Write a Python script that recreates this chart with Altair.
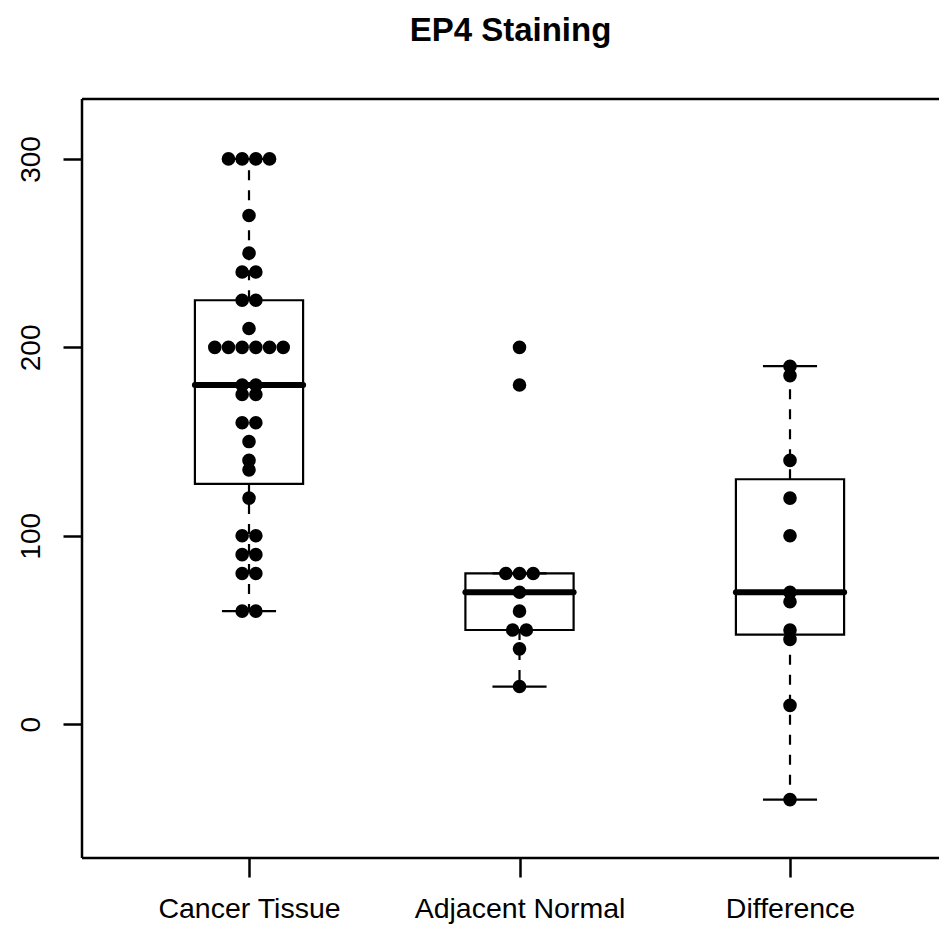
import altair as alt
import numpy as np
import pandas as pd

# ---------------- data ----------------
chart_title = "EP4 Staining"
categories = ["Cancer Tissue", "Adjacent Normal", "Difference"]
cancer_tissue = [300, 300, 300, 300, 270, 250, 240, 240, 225, 225, 210,
                 200, 200, 200, 200, 200, 200, 180, 180, 175, 175, 160, 160,
                 150, 140, 135, 120, 100, 100, 90, 90, 80, 80, 60, 60]
adjacent_normal = [200, 180, 80, 80, 80, 70, 60, 50, 50, 40, 20]
difference = [190, 185, 140, 120, 100, 70, 65, 50, 45, 10, -40]
y_ticks = [0, 100, 200, 300]

series = [cancer_tissue, adjacent_normal, difference]

# ---------------- layout / helpers ----------------
FONT = "Liberation Sans"
BOX_HALF = 0.2
CAP_HALF = 0.1
SWARM_STEP = 0.0506
PLOT_W = 857
PLOT_H = 759
X_DOMAIN = [0.3826, 0.3826 + PLOT_W / 270.5]
Y_DOMAIN = [-71.0, 331.8]


def fivenum(v):
    s = sorted(v)
    n = len(s)
    n4 = np.floor((n + 3) / 2) / 2
    d = [1, n4, (n + 1) / 2, n + 1 - n4, n]
    return [0.5 * (s[int(np.floor(i)) - 1] + s[int(np.ceil(i)) - 1]) for i in d]


box_rows = []
point_rows = []
for i, (cat, vals) in enumerate(zip(categories, series), start=1):
    fn = fivenum(vals)
    q1, med, q3 = fn[1], fn[2], fn[3]
    iqr = q3 - q1
    hi = max(v for v in vals if v <= q3 + 1.5 * iqr)
    lo = min(v for v in vals if v >= q1 - 1.5 * iqr)
    box_rows.append(dict(cat=cat, pos=i, xl=i - BOX_HALF, xr=i + BOX_HALF,
                         cl=i - CAP_HALF, cr=i + CAP_HALF,
                         q1=q1, med=med, q3=q3, lo=lo, hi=hi))
    counts = pd.Series(vals).value_counts()
    for v, k in counts.items():
        for j in range(k):
            point_rows.append(dict(cat=cat, value=v,
                                   xp=i + (j - (k - 1) / 2) * SWARM_STEP))

box_df = pd.DataFrame(box_rows)
pts_df = pd.DataFrame(point_rows)

label_expr = " : ".join(
    f"datum.value == {i} ? '{c}'" for i, c in enumerate(categories, start=1)
) + " : ''"

x_axis = alt.Axis(values=[1, 2, 3], labelExpr=label_expr, title=None,
                  grid=False, domain=False, tickSize=19, tickWidth=2.5,
                  tickColor="black", labelFont=FONT, labelFontSize=28.5,
                  labelColor="black", labelBaseline="alphabetic",
                  labelPadding=40, labelFlush=False, labelOverlap=False,
                  labelLimit=1000)
y_axis = alt.Axis(values=y_ticks, title=None, grid=False, domain=False,
                  tickSize=19, tickWidth=2.5, tickColor="black",
                  labelFont=FONT, labelFontSize=28, labelColor="black",
                  labelAngle=270, labelAlign="center",
                  labelBaseline="alphabetic", labelPadding=24,
                  labelLimit=1000)

x_scale = alt.Scale(domain=X_DOMAIN, nice=False, zero=False)
y_scale = alt.Scale(domain=Y_DOMAIN, nice=False, zero=False)


def X(field):
    return alt.X(f"{field}:Q", scale=x_scale, axis=x_axis, title=None)


def Y(field):
    return alt.Y(f"{field}:Q", scale=y_scale, axis=y_axis, title=None)


base_box = alt.Chart(box_df)

boxes = base_box.mark_rect(fill="white", stroke="black", strokeWidth=2.2).encode(
    x=X("xl"), x2="xr", y=Y("q1"), y2="q3")

whisk_hi = base_box.mark_rule(color="black", strokeWidth=2.2,
                              strokeDash=[10, 10]).encode(
    x=X("pos"), y=Y("q3"), y2="hi")
whisk_lo = base_box.mark_rule(color="black", strokeWidth=2.2,
                              strokeDash=[10, 10]).encode(
    x=X("pos"), y=Y("q1"), y2="lo")

cap_hi = base_box.mark_rule(color="black", strokeWidth=2.2).encode(
    x=X("cl"), x2="cr", y=Y("hi"))
cap_lo = base_box.mark_rule(color="black", strokeWidth=2.2).encode(
    x=X("cl"), x2="cr", y=Y("lo"))

median = base_box.mark_rule(color="black", strokeWidth=6,
                            strokeCap="round").encode(
    x=X("xl"), x2="xr", y=Y("med"))

points = alt.Chart(pts_df).mark_circle(color="black", opacity=1,
                                       size=185).encode(
    x=X("xp"), y=Y("value"))

# plot frame: left, top and bottom sides (right side lies past the page edge)
frame_src = alt.Chart(pd.DataFrame({"k": [0]}))
frame_left = frame_src.mark_rule(color="black", strokeWidth=2.5).encode(
    x=alt.value(0), y=alt.value(0), y2=alt.value(PLOT_H))
frame_top = frame_src.mark_rule(color="black", strokeWidth=2.5).encode(
    x=alt.value(0), x2=alt.value(PLOT_W), y=alt.value(0))
frame_bottom = frame_src.mark_rule(color="black", strokeWidth=2.5).encode(
    x=alt.value(0), x2=alt.value(PLOT_W), y=alt.value(PLOT_H))

chart = alt.layer(
    boxes, whisk_hi, whisk_lo, cap_hi, cap_lo, median, points,
    frame_left, frame_top, frame_bottom
).properties(
    width=PLOT_W,
    height=PLOT_H,
    autosize=alt.AutoSizeParams(type="none"),
    padding={"left": 74, "top": 91, "right": 0, "bottom": 66},
    background="white",
    title=alt.TitleParams(text=chart_title, font=FONT, fontSize=33,
                          fontWeight="bold", color="black", anchor="middle",
                          frame="group", baseline="alphabetic", offset=24),
).configure_view(
    stroke=None
)

chart.save("out.html", embed_options={"renderer": "svg", "actions": False})
